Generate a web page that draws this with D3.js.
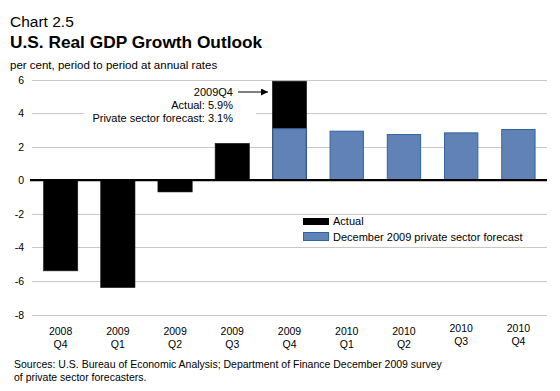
<!DOCTYPE html>
<html>
<head>
<meta charset="utf-8">
<script src="https://cdn.jsdelivr.net/npm/d3@7"></script>
<style>
  body { margin: 0; background: #fff; }
  svg { font-family: "Liberation Sans", Arial, sans-serif; display: block; }
</style>
</head>
<body>
<div id="chart"></div>
<script>
// data
var years = ["2008", "2009", "2009", "2009", "2009", "2010", "2010", "2010", "2010"];
var quarters = ["Q4", "Q1", "Q2", "Q3", "Q4", "Q1", "Q2", "Q3", "Q4"];
var actual = [-5.4, -6.4, -0.7, 2.2, 5.9, null, null, null, null];
var forecast = [null, null, null, null, 3.1, 2.95, 2.75, 2.85, 3.05];
var yTicks = [-8, -6, -4, -2, 0, 2, 4, 6];

var width = 560, height = 391;
var plotLeft = 32, plotRight = 547, plotTop = 79.5, plotBottom = 314.5;

var svg = d3.select("#chart")
  .append("svg")
    .attr("width", width)
    .attr("height", height);

var x = d3.scaleBand()
  .domain(d3.range(years.length))
  .range([plotLeft, plotRight])
  .paddingInner(0.4)
  .paddingOuter(0.2);

var y = d3.scaleLinear()
  .domain([-8, 6])
  .range([plotBottom, plotTop]);

// titles
svg.append("text")
  .attr("x", 10).attr("y", 27)
  .style("font-size", "15.5px")
  .text("Chart 2.5");
svg.append("text")
  .attr("x", 10).attr("y", 48)
  .style("font-size", "17.3px")
  .style("font-weight", "bold")
  .text("U.S. Real GDP Growth Outlook");
svg.append("text")
  .attr("x", 10).attr("y", 69)
  .style("font-size", "11.5px")
  .text("per cent, period to period at annual rates");

// gridlines + y labels
svg.append("g").selectAll("line")
  .data(yTicks.filter(function(d){ return d !== 0; }))
  .enter().append("line")
    .attr("x1", plotLeft).attr("x2", plotRight)
    .attr("y1", function(d){ return Math.round(y(d)) + 0.5; })
    .attr("y2", function(d){ return Math.round(y(d)) + 0.5; })
    .attr("stroke", "#c8c8c8")
    .attr("stroke-width", 1);

svg.append("g").selectAll("text")
  .data(yTicks)
  .enter().append("text")
    .attr("x", 24)
    .attr("y", function(d){ return y(d) + 4; })
    .attr("text-anchor", "end")
    .style("font-size", "10.5px")
    .text(function(d){ return d; });

// bars
var actualData = actual.map(function(d, i){ return {i: i, v: d}; }).filter(function(d){ return d.v !== null; });
var forecastData = forecast.map(function(d, i){ return {i: i, v: d}; }).filter(function(d){ return d.v !== null; });

svg.append("g").selectAll("rect")
  .data(actualData)
  .enter().append("rect")
    .attr("x", function(d){ return x(d.i); })
    .attr("y", function(d){ return y(Math.max(0, d.v)); })
    .attr("width", x.bandwidth())
    .attr("height", function(d){ return Math.abs(y(d.v) - y(0)); })
    .attr("fill", "#000")
    .attr("stroke", "#222")
    .attr("stroke-width", 0.6);

svg.append("g").selectAll("rect")
  .data(forecastData)
  .enter().append("rect")
    .attr("x", function(d){ return x(d.i) + 0.5; })
    .attr("y", function(d){ return y(d.v) + 0.5; })
    .attr("width", x.bandwidth() - 1)
    .attr("height", function(d){ return y(0) - y(d.v) - 1; })
    .attr("fill", "#6182b5")
    .attr("stroke", "#2f64a2")
    .attr("stroke-width", 1);

// zero line
svg.append("line")
  .attr("x1", plotLeft - 2).attr("x2", plotRight)
  .attr("y1", y(0)).attr("y2", y(0))
  .attr("stroke", "#000")
  .attr("stroke-width", 2.2);

// x labels
var xl = svg.append("g").selectAll("g")
  .data(years)
  .enter().append("g")
    .attr("transform", function(d, i){ return "translate(" + (x(i) + x.bandwidth()/2) + ",0)"; });
xl.append("text")
  .attr("y", function(d, i){ return i > 6 ? 332 : 335; })
  .attr("text-anchor", "middle")
  .style("font-size", "10.5px")
  .text(function(d){ return d; });
xl.append("text")
  .attr("y", function(d, i){ return i > 6 ? 345 : 348; })
  .attr("text-anchor", "middle")
  .style("font-size", "10.5px")
  .text(function(d, i){ return quarters[i]; });

// annotation
svg.append("rect")
  .attr("x", 84).attr("y", 86)
  .attr("width", 172).attr("height", 38)
  .attr("fill", "#fff");
var ann = svg.append("g").style("font-size", "11px").attr("text-anchor", "end");
ann.append("text").attr("x", 233).attr("y", 96).text("2009Q4");
ann.append("text").attr("x", 233).attr("y", 109).text("Actual: 5.9%");
ann.append("text").attr("x", 233).attr("y", 122).text("Private sector forecast: 3.1%");

svg.append("defs").append("marker")
    .attr("id", "arr")
    .attr("viewBox", "0 0 10 10")
    .attr("refX", 10).attr("refY", 5)
    .attr("markerWidth", 7).attr("markerHeight", 7)
    .attr("markerUnits", "userSpaceOnUse")
    .attr("orient", "auto")
  .append("path")
    .attr("d", "M0,0L10,5L0,10Z")
    .attr("fill", "#000");
svg.append("line")
  .attr("x1", 238).attr("x2", 268)
  .attr("y1", 92).attr("y2", 92)
  .attr("stroke", "#000")
  .attr("stroke-width", 1)
  .attr("marker-end", "url(#arr)");

// legend
var lg = svg.append("g").style("font-size", "11px");
lg.append("rect").attr("x", 303).attr("y", 218).attr("width", 26).attr("height", 7).attr("fill", "#000");
lg.append("text").attr("x", 333).attr("y", 225).text("Actual");
lg.append("rect").attr("x", 303.5).attr("y", 232.5).attr("width", 25).attr("height", 8).attr("fill", "#6182b5").attr("stroke", "#2f64a2");
lg.append("text").attr("x", 333).attr("y", 241).text("December 2009 private sector forecast");

// sources
var src = svg.append("g").style("font-size", "10.5px");
src.append("text").attr("x", 14).attr("y", 368).text("Sources: U.S. Bureau of Economic Analysis; Department of Finance December 2009 survey");
src.append("text").attr("x", 14).attr("y", 381).text("of private sector forecasters.");
</script>
</body>
</html>
